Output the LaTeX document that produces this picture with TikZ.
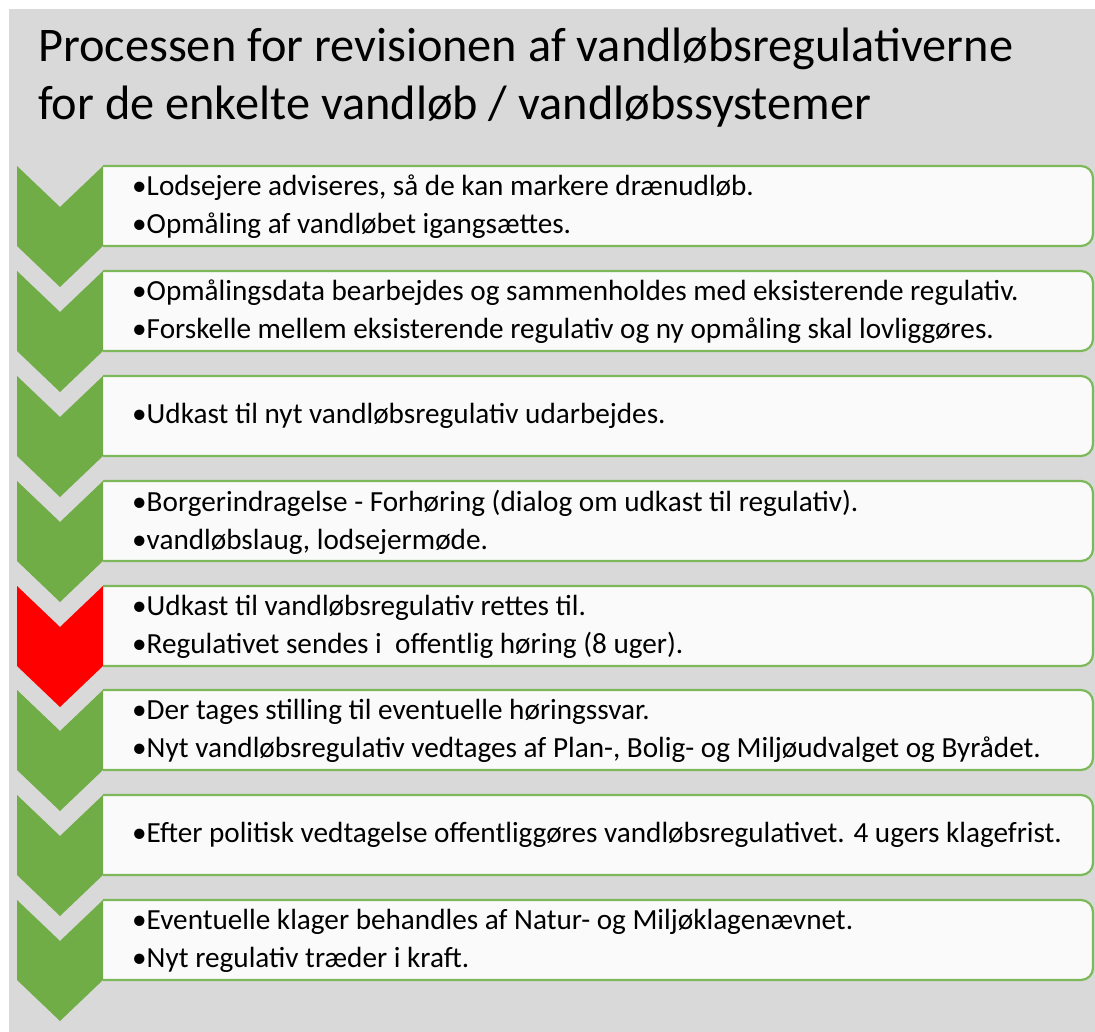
\documentclass[tikz,border=0pt]{standalone}
\usepackage{fontspec}
\setmainfont{Carlito}
\usepackage{xcolor}
\usepackage{tikz}

\definecolor{bggray}{HTML}{D9D9D9}
\definecolor{stepgreen}{HTML}{70AD47}
\definecolor{linegreen}{HTML}{7DB95A}
\definecolor{boxwhite}{HTML}{FAFAFA}
\definecolor{stepred}{HTML}{FF0000}

\tikzset{
  stepbox/.style={draw=linegreen, line width=2.2pt, fill=boxwhite, rounded corners=12pt},
  greenchev/.style={fill=stepgreen},
  redchev/.style={fill=stepred},
  steptext/.style={anchor=west, align=left, inner sep=0pt, font=\fontsize{29.2}{38}\selectfont},
  titletext/.style={anchor=west, align=left, inner sep=0pt, font=\fontsize{48.3}{58}\selectfont}
}

\begin{document}
\begin{tikzpicture}[x=1pt, y=-1pt]
\useasboundingbox (0,0) rectangle (1095,1032);
\fill[bggray] (9,9) rectangle (1095,1032);

\node[titletext] (title) at (38,78) {Processen for revisionen af vandløbsregulativerne\\for de enkelte vandløb / vandløbssystemer};

% boxes
\draw[stepbox] (103,166) -- (1093,166) -- (1093,246) -- (103,246);
\draw[stepbox] (103,271) -- (1093,271) -- (1093,351) -- (103,351);
\draw[stepbox] (103,376) -- (1093,376) -- (1093,456) -- (103,456);
\draw[stepbox] (103,481) -- (1093,481) -- (1093,561) -- (103,561);
\draw[stepbox] (103,586) -- (1093,586) -- (1093,666) -- (103,666);
\draw[stepbox] (103,690) -- (1093,690) -- (1093,770) -- (103,770);
\draw[stepbox] (103,795) -- (1093,795) -- (1093,875) -- (103,875);
\draw[stepbox] (103,900) -- (1093,900) -- (1093,980) -- (103,980);

% chevrons
\fill[greenchev] (17,166) -- (60,207) -- (103,166) -- (103,246) -- (60,287) -- (17,246) -- cycle;
\fill[greenchev] (17,271) -- (60,312) -- (103,271) -- (103,351) -- (60,392) -- (17,351) -- cycle;
\fill[greenchev] (17,376) -- (60,417) -- (103,376) -- (103,456) -- (60,497) -- (17,456) -- cycle;
\fill[greenchev] (17,481) -- (60,522) -- (103,481) -- (103,561) -- (60,602) -- (17,561) -- cycle;
\fill[redchev] (17,586) -- (60,627) -- (103,586) -- (103,666) -- (60,707) -- (17,666) -- cycle;
\fill[greenchev] (17,690) -- (60,731) -- (103,690) -- (103,770) -- (60,811) -- (17,770) -- cycle;
\fill[greenchev] (17,795) -- (60,836) -- (103,795) -- (103,875) -- (60,916) -- (17,875) -- cycle;
\fill[greenchev] (17,900) -- (60,941) -- (103,900) -- (103,980) -- (60,1021) -- (17,980) -- cycle;

% texts
\node[steptext] (s1) at (132,207) {•Lodsejere adviseres, så de kan markere drænudløb.\\•Opmåling af vandløbet igangsættes.};
\node[steptext] (s2) at (132,312) {•Opmålingsdata bearbejdes og sammenholdes med eksisterende regulativ.\\•Forskelle mellem eksisterende regulativ og ny opmåling skal lovliggøres.};
\node[steptext] (s3) at (132,416) {•Udkast til nyt vandløbsregulativ udarbejdes.};
\node[steptext] (s4) at (132,522) {•Borgerindragelse - Forhøring (dialog om udkast til regulativ).\\•vandløbslaug, lodsejermøde.};
\node[steptext] (s5) at (132,627) {•Udkast til vandløbsregulativ rettes til.\\•Regulativet sendes i~ offentlig høring (8 uger).};
\node[steptext] (s6) at (132,731) {•Der tages stilling til eventuelle høringssvar.\\•Nyt vandløbsregulativ vedtages af Plan-, Bolig- og Miljøudvalget og Byrådet.};
\node[steptext] (s7) at (132,835) {•Efter politisk vedtagelse offentliggøres vandløbsregulativet. 4 ugers klagefrist.};
\node[steptext] (s8) at (132,941) {•Eventuelle klager behandles af Natur- og Miljøklagenævnet.\\•Nyt regulativ træder i kraft.};
\end{tikzpicture}
\end{document}
